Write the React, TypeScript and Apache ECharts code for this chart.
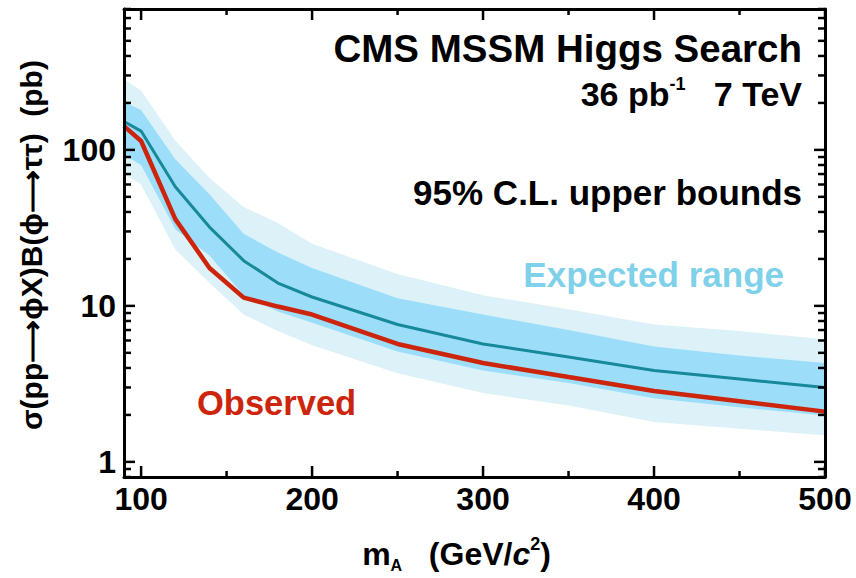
import React, { useEffect, useRef } from "react";
import * as echarts from "echarts";

// Higgs mass points (GeV/c^2)
const massPoints = [90, 100, 120, 140, 160, 180, 200, 250, 300, 350, 400, 450, 500];
// Observed 95% CL upper limit (pb)
const observed = [142, 114, 36, 17.5, 11.3, 9.9, 8.8, 5.7, 4.3, 3.5, 2.85, 2.45, 2.1];
// Expected median (pb)
const expectedMedian = [152, 132, 58, 32, 19.5, 14, 11.4, 7.6, 5.7, 4.7, 3.85, 3.4, 3.0];
// +/- 1 sigma band
const oneSigmaHigh = [203, 180, 87, 52, 29, 22, 17.5, 11.2, 8.8, 7.0, 5.5, 4.8, 4.3];
const oneSigmaLow = [93, 80, 31, 21, 11.7, 9.2, 7.8, 5.1, 3.85, 3.2, 2.56, 2.24, 1.98];
// +/- 2 sigma band
const twoSigmaHigh = [284, 240, 115, 66, 43, 34, 25, 16, 11.7, 9.5, 7.6, 6.9, 6.1];
const twoSigmaLow = [70, 60, 23, 14, 8.8, 6.9, 5.6, 3.7, 2.76, 2.3, 1.8, 1.63, 1.48];

// axis ticks
const xMajorTicks = [100, 200, 300, 400, 500];
const xMinorTicks = [150, 250, 350, 450];
const yMajorTicks = [1, 10, 100];
const yMinorTicks = [0.8, 0.9, 2, 3, 4, 5, 6, 7, 8, 9, 20, 30, 40, 50, 60, 70, 80, 90, 200, 300, 400, 500, 600, 700, 800];

const FONT = "Liberation Sans";
const LIGHT = "#dcf2f8";
const DARK = "#9cdefa";
const TEAL = "#17899a";
const RED = "#cc250c";

export default function App() {
  const ref = useRef<HTMLDivElement>(null);

  useEffect(() => {
    const chart = echarts.init(ref.current!, null, { renderer: "svg" });

    const band = (name: string, lo: number[], hi: number[], color: string, z: number) => ({
      type: "custom",
      name,
      xAxisIndex: 0,
      yAxisIndex: 0,
      silent: true,
      z,
      data: massPoints.map((x, i) => [x, lo[i], hi[i]]),
      encode: { x: 0, y: [1, 2] },
      renderItem: (params: any, api: any) => {
        if (params.dataIndex !== 0) return { type: "group", children: [] };
        const top = massPoints.map((x, i) => api.coord([x, hi[i]]));
        const bot = massPoints.map((x, i) => api.coord([x, lo[i]])).reverse();
        return {
          type: "polygon",
          shape: { points: top.concat(bot) },
          style: { fill: color },
        };
      },
    });

    const tickLine = (x1: number, y1: number, x2: number, y2: number) => ({
      type: "line",
      shape: { x1, y1, x2, y2 },
      style: { stroke: "#000", lineWidth: 2.5 },
    });

    // tick marks on bottom and top edges (mirror ticks, pointing inward)
    const xTicks = (values: number[], len: number) => ({
      type: "custom",
      silent: true,
      clip: false,
      z: 10,
      xAxisIndex: 0,
      yAxisIndex: 0,
      data: values.map((v) => [v, 1]),
      encode: { x: 0, y: 1 },
      renderItem: (params: any, api: any) => {
        const cs = params.coordSys;
        const px = api.coord([api.value(0), 1])[0];
        const b = cs.y + cs.height;
        return {
          type: "group",
          children: [tickLine(px, b, px, b - len), tickLine(px, cs.y, px, cs.y + len)],
        };
      },
    });

    // tick marks on left and right edges
    const yTicks = (values: number[], len: number) => ({
      type: "custom",
      silent: true,
      clip: false,
      z: 10,
      xAxisIndex: 0,
      yAxisIndex: 0,
      data: values.map((v) => [100, v]),
      encode: { x: 0, y: 1 },
      renderItem: (params: any, api: any) => {
        const cs = params.coordSys;
        const py = api.coord([100, api.value(1)])[1];
        const r = cs.x + cs.width;
        return {
          type: "group",
          children: [tickLine(cs.x, py, cs.x + len, py), tickLine(r, py, r - len, py)],
        };
      },
    });

    const line = { lineStyle: { color: "#000", width: 3 } };

    const option: any = {
      animation: false,
      backgroundColor: "#fff",
      grid: { left: 124, right: 31, top: 9, bottom: 94 },
      xAxis: [
        {
          type: "value",
          min: 90,
          max: 500,
          z: 10,
          position: "bottom",
          splitLine: { show: false },
          axisLine: { show: true, onZero: false, ...line },
          axisTick: { show: false },
          axisLabel: {
            show: true,
            customValues: xMajorTicks,
            fontFamily: FONT,
            fontWeight: "bold",
            fontSize: 32,
            color: "#000",
            margin: 6,
          },
          name: "{m|m}{sub|A}{t|   (GeV/}{it|c}{sup|2}{t|)}",
          nameLocation: "middle",
          nameGap: 58,
          nameTextStyle: {
            padding: [0, 36, 0, 0],
            rich: {
              m: { fontFamily: FONT, fontWeight: "bold", fontSize: 32, color: "#000", lineHeight: 38 },
              t: { fontFamily: FONT, fontWeight: "bold", fontSize: 32, color: "#000", lineHeight: 38 },
              it: { fontFamily: FONT, fontWeight: "bold", fontStyle: "italic", fontSize: 32, color: "#000", lineHeight: 38 },
              sub: { fontFamily: FONT, fontWeight: "bold", fontSize: 16, color: "#000", lineHeight: 16, verticalAlign: "bottom" },
              sup: { fontFamily: FONT, fontWeight: "bold", fontSize: 18, color: "#000", lineHeight: 22, verticalAlign: "top" },
            },
          },
        },
        {
          type: "value",
          min: 90,
          max: 500,
          z: 10,
          position: "top",
          splitLine: { show: false },
          axisLine: { show: true, onZero: false, ...line },
          axisTick: { show: false },
          axisLabel: { show: false },
        },
      ],
      yAxis: [
        {
          type: "log",
          logBase: 10,
          min: 0.8,
          max: 800,
          z: 10,
          position: "left",
          splitLine: { show: false },
          axisLine: { show: true, onZero: false, ...line },
          axisTick: { show: false },
          axisLabel: {
            show: true,
            customValues: yMajorTicks,
            fontFamily: FONT,
            fontWeight: "bold",
            fontSize: 32,
            color: "#000",
            margin: 8,
          },
          name: "σ(pp⟶ϕX)B(ϕ⟶ττ)  (pb)",
          nameLocation: "middle",
          nameGap: 78,
          nameTextStyle: {
            fontFamily: FONT,
            fontWeight: "bold",
            fontSize: 30,
            color: "#000",
            padding: [0, 4, 0, 0],
          },
        },
        {
          type: "log",
          logBase: 10,
          min: 0.8,
          max: 800,
          z: 10,
          position: "right",
          splitLine: { show: false },
          axisLine: { show: true, onZero: false, ...line },
          axisTick: { show: false },
          axisLabel: { show: false },
        },
      ],
      series: [
        band("Expected ±2σ", twoSigmaLow, twoSigmaHigh, LIGHT, 1),
        band("Expected ±1σ", oneSigmaLow, oneSigmaHigh, DARK, 2),
        {
          type: "line",
          name: "Expected",
          xAxisIndex: 0,
          yAxisIndex: 0,
          z: 3,
          symbol: "none",
          data: massPoints.map((x, i) => [x, expectedMedian[i]]),
          lineStyle: { color: TEAL, width: 3 },
        },
        {
          type: "line",
          name: "Observed",
          xAxisIndex: 0,
          yAxisIndex: 0,
          z: 4,
          symbol: "none",
          data: massPoints.map((x, i) => [x, observed[i]]),
          lineStyle: { color: RED, width: 4.5 },
        },
        xTicks(xMajorTicks, 11),
        xTicks(xMinorTicks, 6),
        yTicks(yMajorTicks, 11),
        yTicks(yMinorTicks, 7),
      ],
      graphic: [
        {
          type: "text",
          right: 54,
          top: 29,
          z: 10,
          style: {
            text: "CMS MSSM Higgs Search",
            font: `bold 38.5px "${FONT}"`,
            fill: "#000",
          },
        },
        {
          type: "text",
          right: 54,
          top: 75,
          z: 10,
          style: {
            text: "{a|36 pb}{s|-1}{a|   7 TeV}",
            fill: "#000",
            rich: {
              a: { fontFamily: FONT, fontWeight: "bold", fontSize: 34, fill: "#000", lineHeight: 36, verticalAlign: "bottom" },
              s: { fontFamily: FONT, fontWeight: "bold", fontSize: 18, fill: "#000", lineHeight: 18, verticalAlign: "top" },
            },
          },
        },
        {
          type: "text",
          right: 54,
          top: 175,
          z: 10,
          style: {
            text: "95% C.L. upper bounds",
            font: `bold 35px "${FONT}"`,
            fill: "#000",
          },
        },
        {
          type: "text",
          right: 72,
          top: 257,
          z: 10,
          style: {
            text: "Expected range",
            font: `bold 35px "${FONT}"`,
            fill: "#7fd1ea",
          },
        },
        {
          type: "text",
          left: 197,
          top: 385,
          z: 10,
          style: {
            text: "Observed",
            font: `bold 34.5px "${FONT}"`,
            fill: RED,
          },
        },
      ],
    };

    chart.setOption(option);
    return () => chart.dispose();
  }, []);

  return (
    <div
      ref={ref}
      style={{ position: "absolute", left: 0, top: 0, width: 856, height: 578, background: "#fff" }}
    />
  );
}
